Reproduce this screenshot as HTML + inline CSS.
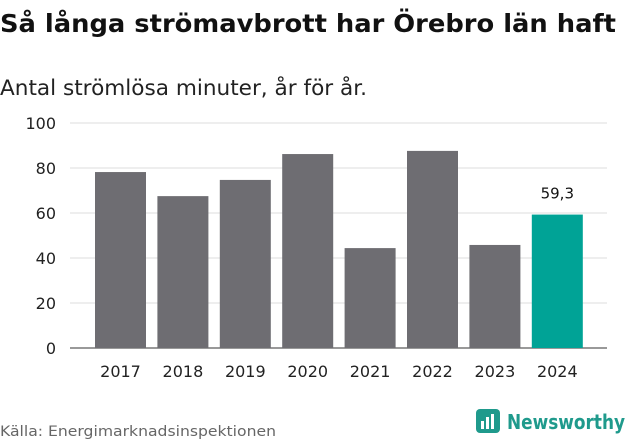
<!DOCTYPE html>
<html><head><meta charset="utf-8"><style>
body{margin:0;background:#fff;width:631px;height:439px;overflow:hidden;font-family:"DejaVu Sans","Liberation Sans",sans-serif;}
</style></head><body>
<svg width="631" height="439" xmlns="http://www.w3.org/2000/svg">
<text x="0" y="32" font-size="25" font-weight="bold" fill="#111" textLength="616" lengthAdjust="spacingAndGlyphs">Så långa strömavbrott har Örebro län haft</text>
<text x="0" y="95" font-size="21" fill="#222" textLength="367" lengthAdjust="spacingAndGlyphs">Antal strömlösa minuter, år för år.</text>
<g id="grid"></g><g id="bars"></g><g id="xt"></g>
<text x="0" y="436" font-size="14" fill="#666" textLength="276" lengthAdjust="spacingAndGlyphs">Källa: Energimarknadsinspektionen</text>
<g>
<rect x="476" y="409" width="24" height="24" rx="4" fill="#1f9a8c"/>
<rect x="481" y="421" width="3" height="8" fill="#fff"/><rect x="486" y="417" width="3" height="12" fill="#fff"/><rect x="491" y="414" width="3" height="15" fill="#fff"/>
<text x="507" y="429" font-size="20" font-weight="bold" fill="#1f9a8c" textLength="118" lengthAdjust="spacingAndGlyphs">Newsworthy</text>
</g>
</svg>
<script>
const categories=["2017","2018","2019","2020","2021","2022","2023","2024"];
const values=[78.2,67.5,74.7,86.2,44.4,87.6,45.8,59.3];
const yTicks=[0,20,40,60,80,100];
const NS="http://www.w3.org/2000/svg";
const y=v=>348-v*2.25, x=i=>95+i*62.4;
function mk(t,a,p){const e=document.createElementNS(NS,t);for(const k in a)e.setAttribute(k,a[k]);p.appendChild(e);return e;}
const g=document.getElementById('grid');
yTicks.forEach(v=>{
 const l=mk('line',{x1:70,x2:607,y1:y(v),y2:y(v),stroke:v?'#ddd':'#333','stroke-width':1},g);
 
 
 const t=mk('text',{x:56,y:y(v)+6,'text-anchor':'end','font-size':16,fill:'#222'},g);t.textContent=v;
 
 
});
const b=document.getElementById('bars'),xt=document.getElementById('xt');
values.forEach((v,i)=>{
 const last=i===values.length-1;
 const r=mk('rect',{x:x(i),y:y(v),width:51,height:348-y(v),fill:last?'#00a396':'#6e6d72'},b);
 
 
 const t=mk('text',{x:x(i)+25.5,y:377,'text-anchor':'middle','font-size':16,fill:'#222'},xt);t.textContent=categories[i];
 
 
 if(last){const lb=mk('text',{x:x(i)+25.5,y:y(v)-16,'text-anchor':'middle','font-size':15,fill:'#111'},b);lb.textContent=String(v).replace('.',',');
 
 }
});
</script>
</body></html>
